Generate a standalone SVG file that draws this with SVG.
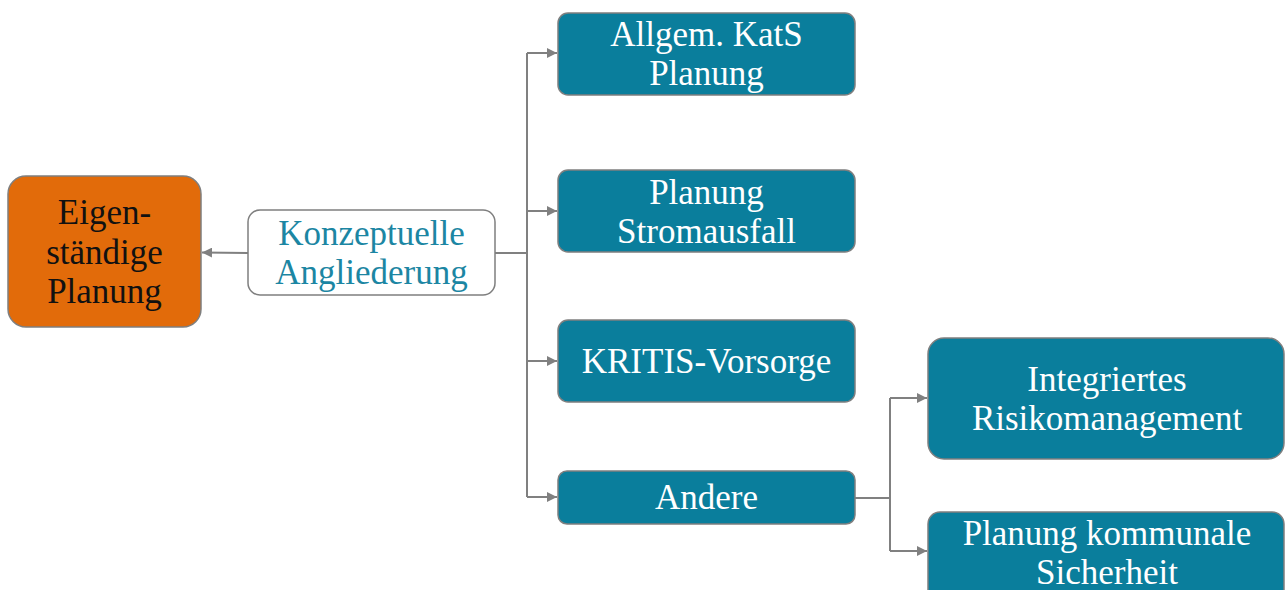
<svg xmlns="http://www.w3.org/2000/svg" width="1285" height="590" viewBox="0 0 1285 590">
<style>
.t{font-family:"Liberation Serif","Times New Roman",serif;font-size:35px;text-anchor:middle}
.w{fill:#ffffff}
.teal{fill:#0a7e9c;stroke:#7f7f7f;stroke-width:1.5}
.c{fill:none;stroke:#808080;stroke-width:2}
</style>
<defs>
<marker id="ah" viewBox="0 0 10 10" refX="10" refY="5" markerWidth="10" markerHeight="10" markerUnits="userSpaceOnUse" orient="auto">
<path d="M0,0 L10,5 L0,10 z" fill="#808080"/>
</marker>
</defs>
<g id="connectors">
<path class="c" d="M248,253 L202,252.5" marker-end="url(#ah)"/>
<path class="c" d="M495,253 L527,253"/>
<path class="c" d="M527,53 L527,497"/>
<path class="c" d="M527,53 L557,53" marker-end="url(#ah)"/>
<path class="c" d="M527,211 L557,211" marker-end="url(#ah)"/>
<path class="c" d="M527,361 L557,361" marker-end="url(#ah)"/>
<path class="c" d="M527,497 L557,497" marker-end="url(#ah)"/>
<path class="c" d="M855,498 L890,498"/>
<path class="c" d="M890,398 L890,551"/>
<path class="c" d="M890,398 L927,398" marker-end="url(#ah)"/>
<path class="c" d="M890,551 L927,551" marker-end="url(#ah)"/>
</g>
<g id="eigen">
<rect x="8" y="176" width="193" height="151" rx="18" fill="#e26b0a" stroke="#7f7f7f" stroke-width="1.5"/>
<text class="t" fill="#111111" x="104.5" y="224">Eigen-</text>
<text class="t" fill="#111111" x="104.5" y="264">ständige</text>
<text class="t" fill="#111111" x="104.5" y="303">Planung</text>
</g>
<g id="konzept">
<rect x="248" y="210" width="247" height="85" rx="12" fill="#ffffff" stroke="#7f7f7f" stroke-width="1.5"/>
<text class="t" fill="#1c86a3" x="371.5" y="245">Konzeptuelle</text>
<text class="t" fill="#1c86a3" x="371.5" y="284">Angliederung</text>
</g>
<g id="allgem">
<rect class="teal" x="558" y="13" width="297" height="82" rx="10"/>
<text class="t w" x="706.5" y="46">Allgem. KatS</text>
<text class="t w" x="706.5" y="85">Planung</text>
</g>
<g id="strom">
<rect class="teal" x="558" y="170" width="297" height="82" rx="10"/>
<text class="t w" x="706.5" y="204">Planung</text>
<text class="t w" x="706.5" y="243">Stromausfall</text>
</g>
<g id="kritis">
<rect class="teal" x="558" y="320" width="297" height="82" rx="10"/>
<text class="t w" x="706.5" y="373">KRITIS-Vorsorge</text>
</g>
<g id="andere">
<rect class="teal" x="558" y="471" width="297" height="53" rx="9"/>
<text class="t w" x="706.5" y="509">Andere</text>
</g>
<g id="risiko">
<rect class="teal" x="928" y="338" width="356" height="121" rx="16"/>
<text class="t w" x="1107" y="391">Integriertes</text>
<text class="t w" x="1107" y="430">Risikomanagement</text>
</g>
<g id="kommunal">
<rect class="teal" x="928" y="512" width="356" height="100" rx="12"/>
<text class="t w" x="1107" y="545">Planung kommunale</text>
<text class="t w" x="1107" y="584">Sicherheit</text>
</g>
</svg>
